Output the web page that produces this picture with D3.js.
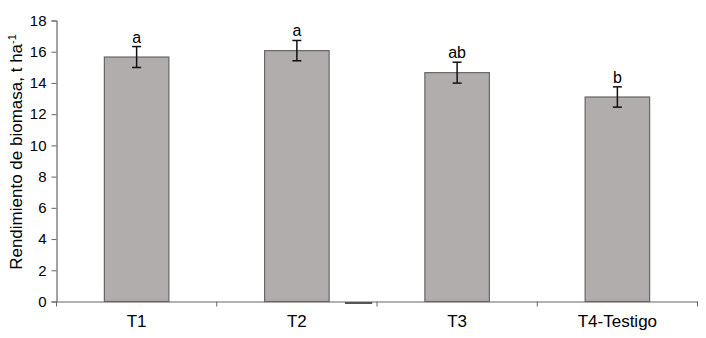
<!DOCTYPE html>
<html>
<head>
<meta charset="utf-8">
<script src="https://cdn.jsdelivr.net/npm/d3@7"></script>
<style>
  body { margin: 0; background: #fff; }
  svg text { font-family: "Liberation Sans", Arial, sans-serif; fill: #000; }
</style>
</head>
<body>
<svg id="chart" width="706" height="338"></svg>
<script>
// data
var treatments = ["T1", "T2", "T3", "T4-Testigo"];
var biomass = [15.66, 16.07, 14.66, 13.1];
var errors = [0.67, 0.65, 0.67, 0.65];
var letters = ["a", "a", "ab", "b"];
var yTicks = [0, 2, 4, 6, 8, 10, 12, 14, 16, 18];

var svg = d3.select("#chart");
var plotLeft = 56.5, plotRight = 697.5, plotTop = 20.5, plotBottom = 301.5;

var x = d3.scaleBand().domain(treatments).range([plotLeft, plotRight]).padding(0);
var y = d3.scaleLinear().domain([0, 18]).range([plotBottom, plotTop]);
var barW = 64.5;

// bars
svg.selectAll("rect.bar").data(treatments).enter().append("rect")
	.attr("class", "bar")
	.attr("x", function(d){ return x(d) + x.bandwidth()/2 - barW/2; })
	.attr("y", function(d, i){ return y(biomass[i]); })
	.attr("width", barW)
	.attr("height", function(d, i){ return y(0) - y(biomass[i]); })
	.style("fill", "#b1adac")
	.style("stroke", "#666")
	.style("stroke-width", 1.2);

// error bars
var eb = svg.selectAll("g.err").data(treatments).enter().append("g").attr("class", "err");
eb.append("line")
	.attr("x1", function(d){ return x(d) + x.bandwidth()/2; })
	.attr("x2", function(d){ return x(d) + x.bandwidth()/2; })
	.attr("y1", function(d, i){ return y(biomass[i] + errors[i]); })
	.attr("y2", function(d, i){ return y(biomass[i] - errors[i]); });
[1, -1].forEach(function(s){
	eb.append("line")
		.attr("x1", function(d){ return x(d) + x.bandwidth()/2 - 4.5; })
		.attr("x2", function(d){ return x(d) + x.bandwidth()/2 + 4.5; })
		.attr("y1", function(d, i){ return y(biomass[i] + s*errors[i]); })
		.attr("y2", function(d, i){ return y(biomass[i] + s*errors[i]); });
});
eb.selectAll("line").style("stroke", "#111").style("stroke-width", 1.5);

// significance letters
svg.selectAll("text.sig").data(treatments).enter().append("text")
	.attr("class", "sig")
	.attr("x", function(d){ return x(d) + x.bandwidth()/2; })
	.attr("y", function(d, i){ return y(biomass[i] + errors[i]) - 4; })
	.attr("text-anchor", "middle")
	.style("font-size", "16px")
	.text(function(d, i){ return letters[i]; });

// y axis
var yAxis = svg.append("g").attr("transform", "translate(" + plotLeft + ",0)")
	.call(d3.axisLeft(y).tickValues(yTicks).tickSize(5).tickPadding(5));
// x axis
var xAxis = svg.append("g").attr("transform", "translate(0," + plotBottom + ")")
	.call(d3.axisBottom(x).tickSize(0).tickPadding(13));
// tick marks on band boundaries
svg.selectAll("line.xt").data(treatments.concat(["end"])).enter().append("line")
	.attr("class", "xt")
	.attr("x1", function(d, i){ return plotLeft + i*x.step(); })
	.attr("x2", function(d, i){ return plotLeft + i*x.step(); })
	.attr("y1", plotBottom).attr("y2", plotBottom + 5)
	.style("stroke", "#666");

[yAxis, xAxis].forEach(function(a){
	a.select(".domain").style("stroke", "#666").style("stroke-width", 1.2);
	a.selectAll(".tick line").style("stroke", "#666");
	a.selectAll("text").style("font-family", "Liberation Sans, Arial, sans-serif").style("fill", "#000");
});
yAxis.selectAll("text").style("font-size", "15px");
xAxis.selectAll("text").style("font-size", "17px");

// small stray dash under the axis between T2 and T3, as in the source
svg.append("line")
	.attr("x1", x("T2") + x.bandwidth()*0.8)
	.attr("x2", x("T2") + x.bandwidth()*0.97)
	.attr("y1", plotBottom + 1.5).attr("y2", plotBottom + 1.5)
	.style("stroke", "#555").style("stroke-width", 2);

// y title
svg.append("text")
	.attr("transform", "translate(22," + 152 + ") rotate(-90)")
	.attr("text-anchor", "middle")
	.style("font-size", "17px")
	.html('Rendimiento de biomasa, t ha<tspan dy="-6" font-size="11px">-1</tspan>');
</script>
</body>
</html>
